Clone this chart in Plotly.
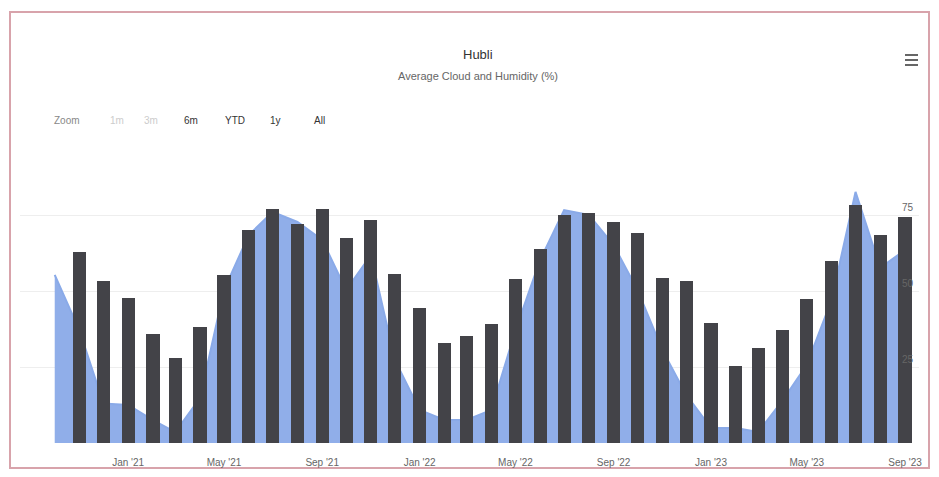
import plotly.graph_objects as go

# monthly averages for Hubli (cloud cover as area, humidity as columns)
cloud_months = ["2020-10-01", "2020-11-01", "2020-12-01",
                "2021-01-01", "2021-02-01", "2021-03-01", "2021-04-01", "2021-05-01", "2021-06-01",
                "2021-07-01", "2021-08-01", "2021-09-01", "2021-10-01", "2021-11-01", "2021-12-01",
                "2022-01-01", "2022-02-01", "2022-03-01", "2022-04-01", "2022-05-01", "2022-06-01",
                "2022-07-01", "2022-08-01", "2022-09-01", "2022-10-01", "2022-11-01", "2022-12-01",
                "2023-01-01", "2023-02-01", "2023-03-01", "2023-04-01", "2023-05-01", "2023-06-01",
                "2023-07-01", "2023-08-01", "2023-09-01"]
cloud = [55.3, 37.0, 13.0, 12.5, 7.5, 3.6, 14.8, 50.3, 68.4, 76.0, 72.7, 66.8,
         50.3, 61.8, 27.3, 10.9, 7.6, 7.6, 10.9, 37.0, 60.2, 76.6, 75.0, 65.1,
         50.3, 30.6, 15.8, 4.9, 4.9, 3.6, 14.1, 25.7, 47.0, 82.6, 57.6, 63.5]

humidity_months = cloud_months[1:]
humidity = [62.9, 53.4, 47.6, 35.8, 27.9, 38.3, 55.2, 70.1, 76.9, 71.9, 76.9,
            67.3, 73.4, 55.6, 44.5, 33.0, 35.2, 39.0, 53.9, 63.8, 75.0, 75.6,
            72.8, 69.2, 54.2, 53.4, 39.4, 25.3, 31.3, 37.2, 47.4, 59.9, 78.3,
            68.4, 74.4]

x_ticks = ["2021-01-01", "2021-05-01", "2021-09-01", "2022-01-01", "2022-05-01",
           "2022-09-01", "2023-01-01", "2023-05-01", "2023-09-01"]
y_ticks = [25, 50, 75]
zoom_buttons = ["1m", "3m", "6m", "YTD", "1y", "All"]

# the page body has an 8px margin, so the figure is drawn from (8, 8)
OFF = 8
W, H = 939 - 2 * OFF, 477 - 2 * OFF
# plot area in window pixels: x 20..919, y 139..443
L, R = 20 - OFF, W - (919 - OFF)
T, B = 139 - OFF, H - (443 - OFF)
FONT = "Liberation Sans, Arial, sans-serif"


def px(x):
    return (x - OFF - L) / (W - L - R)


def py(y):
    return (H - B - (y - OFF)) / (H - T - B)


fig = go.Figure()
fig.add_trace(go.Scatter(
    x=cloud_months, y=cloud, name="Cloud", mode="lines",
    fill="tozeroy", line=dict(color="#8aaae8", width=2),
    fillcolor="rgba(138,170,232,0.95)", hoverinfo="x+y"))
fig.add_trace(go.Bar(
    x=humidity_months, y=humidity, name="Humidity", yaxis="y2",
    marker=dict(color="#434348", line=dict(width=0)),
    width=16.5 * 86400000))

annotations = [
    dict(text="Hubli", x=px(478), y=py(55), font=dict(size=13, color="#333333")),
    dict(text="Average Cloud and Humidity (%)", x=px(478), y=py(76),
         font=dict(size=11, color="#666666")),
    dict(text="Zoom", x=px(67), y=py(120), font=dict(size=10, color="#888888")),
]
btn_x = [117, 151, 191, 235, 275, 319]
for lab, bx in zip(zoom_buttons, btn_x):
    col = "#cccccc" if lab in ("1m", "3m") else "#333333"
    annotations.append(dict(text=lab, x=px(bx), y=py(120), font=dict(size=10, color=col)))
for a in annotations:
    a.update(xref="paper", yref="paper", showarrow=False, xanchor="center", yanchor="middle")

# y labels sit inside the plot, right-aligned just above their grid lines
for v in y_ticks:
    annotations.append(dict(text=str(v), xref="paper", yref="y", x=px(916), y=v,
                            xanchor="right", yanchor="bottom", showarrow=False,
                            font=dict(size=10, color="#666666")))

shapes = [dict(type="rect", xref="paper", yref="paper",
               x0=px(10), x1=px(929), y0=py(12), y1=py(468),
               line=dict(color="#d8a3ab", width=2), layer="below")]
for yy in (55, 60, 65):
    shapes.append(dict(type="line", xref="paper", yref="paper",
                       x0=px(905), x1=px(918), y0=py(yy), y1=py(yy),
                       line=dict(color="#666666", width=2)))

fig.update_layout(
    width=W, height=H,
    margin=dict(l=L, r=R, t=T, b=B, autoexpand=False),
    paper_bgcolor="white", plot_bgcolor="white",
    font=dict(family=FONT, color="#666666"),
    showlegend=False,
    bargap=0,
    xaxis=dict(type="date", range=["2020-08-18 12:00", "2023-09-18 12:00"],
               tickvals=x_ticks, tickformat="%b '%y", automargin=False,
               ticklabeloverflow="allow",
               ticks="outside", ticklen=10, tickcolor="rgba(0,0,0,0)",
               showgrid=False, zeroline=False, showline=False,
               tickfont=dict(size=10, color="#666666")),
    yaxis=dict(range=[0, 100], side="right", tickvals=y_ticks,
               showticklabels=False, showgrid=True, automargin=False,
               gridcolor="#eeeeee", zeroline=False),
    yaxis2=dict(range=[0, 100], overlaying="y", side="right", visible=False),
    annotations=annotations,
    shapes=shapes,
)

fig.write_html("out.html")
